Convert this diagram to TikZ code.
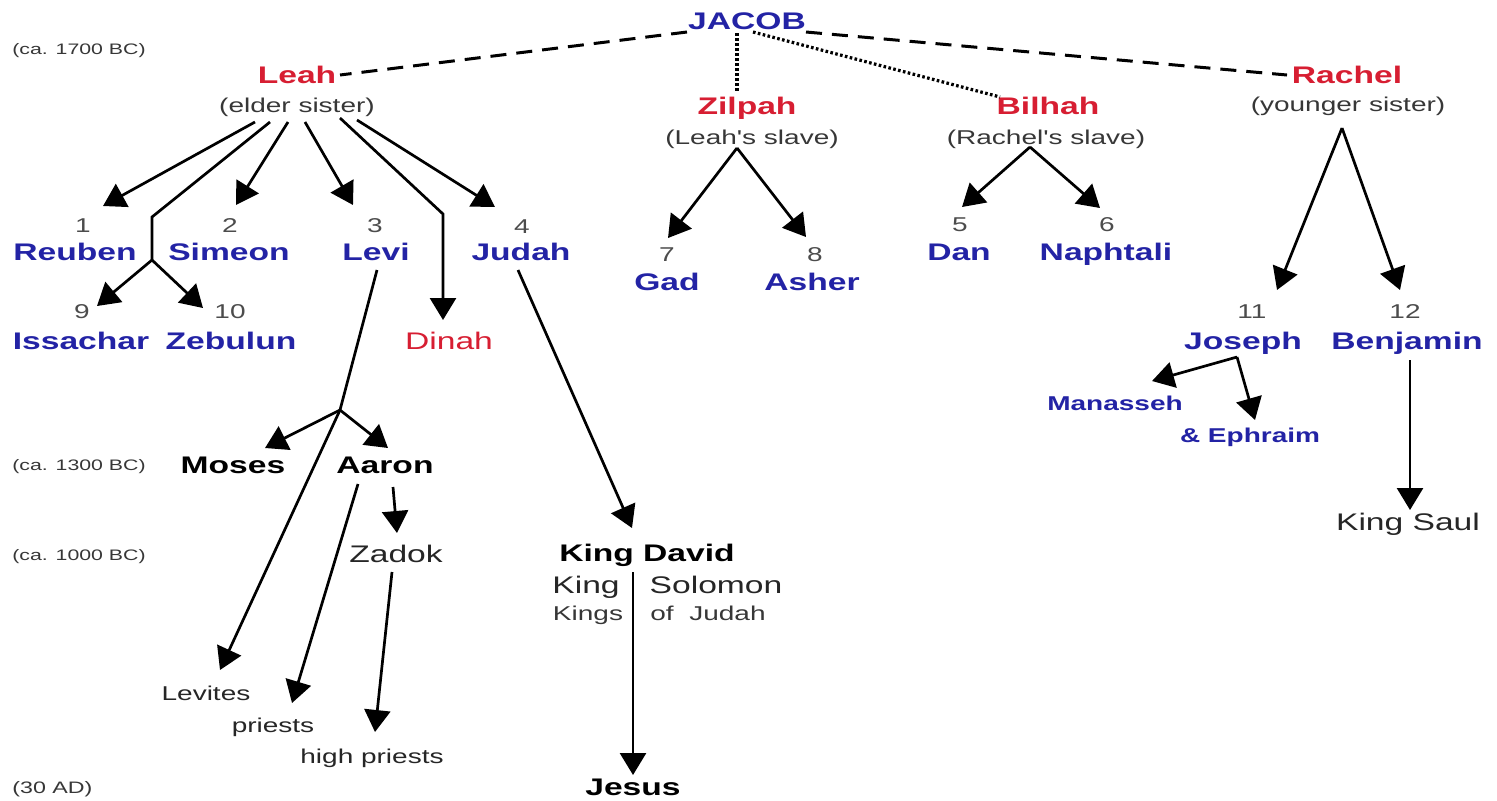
\documentclass[tikz,border=0pt]{standalone}
\usepackage{fontspec}
\newfontfamily\af[FakeStretch=1.4]{Liberation Sans}
\usetikzlibrary{arrows.meta}
\definecolor{nb}{RGB}{35,35,165}
\definecolor{nr}{RGB}{215,30,50}
\definecolor{ng}{RGB}{55,55,55}
\begin{document}
\begin{tikzpicture}[x=0.5pt,y=-0.5pt,
  base/.style={inner sep=0pt, text depth=0pt},
  bname/.style={base, font=\af\fontsize{12}{14}\selectfont\bfseries, text height=8.6pt, text=nb},
  rname/.style={bname, text=nr},
  kname/.style={bname, text=black},
  sname/.style={base, font=\af\fontsize{10}{12}\selectfont\bfseries, text height=7.2pt, text=nb},
  sub/.style={base, font=\af\fontsize{10}{12}\selectfont, text height=7.2pt, text=ng},
  sblk/.style={sub, text=black!85},
  num/.style={sub, text=black!70},
  reg/.style={base, font=\af\fontsize{12}{14}\selectfont, text height=8.6pt, text=black!85},
  rreg/.style={reg, text=nr},
  date/.style={base, font=\af\fontsize{7.6}{9}\selectfont, text height=5.45pt, text=ng, anchor=west},
  arr/.style={line width=1.35pt, -{Triangle[length=11pt,width=13pt]}},
  ln/.style={line width=1.35pt},
  dashln/.style={line width=1.5pt, dash pattern=on 8pt off 5pt},
  dotln/.style={line width=1.6pt, dash pattern=on 1.3pt off 1.2pt}
]
\fill[white] (0,0) rectangle (1497,800);
\useasboundingbox (0,0) rectangle (1497,800);

% dates
\node[date] (d1700) at (12,49) {(ca. 1700 BC)};
\node[date] (d1300) at (12,465) {(ca. 1300 BC)};
\node[date] (d1000) at (12,555) {(ca. 1000 BC)};
\node[date, font=\af\fontsize{8.3}{10}\selectfont, text height=5.95pt] (d30) at (12,788) {(30 AD)};

% top generation
\node[bname] (jacob) at (747,21) {JACOB};
\node[rname] (leah) at (297,75) {Leah};
\node[sub] (leahs) at (297,105) {(elder sister)};
\node[rname] (zilpah) at (747,106) {Zilpah};
\node[sub] (zilpahs) at (752,137) {(Leah's slave)};
\node[rname] (bilhah) at (1048,106) {Bilhah};
\node[sub] (bilhahs) at (1046,137) {(Rachel's slave)};
\node[rname] (rachel) at (1347,75) {Rachel};
\node[sub] (rachels) at (1348,104) {(younger sister)};

% sons
\node[num] (n1) at (83,225) {1};
\node[bname] (reuben) at (75,252) {Reuben};
\node[num] (n2) at (230,225) {2};
\node[bname] (simeon) at (229,252) {Simeon};
\node[num] (n3) at (375,225) {3};
\node[bname] (levi) at (376,252) {Levi};
\node[num] (n4) at (522,226) {4};
\node[bname] (judah) at (521,252) {Judah};
\node[num] (n9) at (82,311) {9};
\node[bname] (issachar) at (81,341) {Issachar};
\node[num] (n10) at (230,311) {10};
\node[bname] (zebulun) at (231,341) {Zebulun};
\node[rreg] (dinah) at (449,341) {Dinah};
\node[num] (n7) at (667,254) {7};
\node[bname] (gad) at (667,282) {Gad};
\node[num] (n8) at (815,254) {8};
\node[bname] (asher) at (812,282) {Asher};
\node[num] (n5) at (960,224) {5};
\node[bname] (dan) at (959,252) {Dan};
\node[num] (n6) at (1107,224) {6};
\node[bname] (naphtali) at (1106,252) {Naphtali};
\node[num] (n11) at (1252,311) {11};
\node[bname] (joseph) at (1243,341) {Joseph};
\node[num] (n12) at (1405,311) {12};
\node[bname] (benjamin) at (1407,341) {Benjamin};
\node[sname] (manasseh) at (1115,403) {Manasseh};
\node[sname] (ephraim) at (1250,435) {\& Ephraim};
\node[reg] (saul) at (1408,522) {King Saul};

% Levi line
\node[kname] (moses) at (233,465) {Moses};
\node[kname] (aaron) at (385,465) {Aaron};
\node[reg] (zadok) at (396,554) {Zadok};
\node[sblk] (levites) at (206,693) {Levites};
\node[sblk] (priests) at (273,725) {priests};
\node[sblk] (hpriests) at (372,756) {high priests};

% Judah line
\node[kname] (david) at (647,553) {King David};
\node[reg] (king) at (586,585) {King};
\node[reg] (solomon) at (716,585) {Solomon};
\node[sub] (kings) at (588,613) {Kings};
\node[sub] (ofjudah) at (708,613) {of\ \ Judah};
\node[kname] (jesus) at (633,787) {Jesus};

% marriage lines
\coordinate (jL) at (687,32);
\coordinate (jR) at (806,32);
\coordinate (leahE) at (340,75);
\coordinate (rachelW) at (1287,75);
\coordinate (jZ) at (737,33);
\coordinate (zN) at (737,92);
\coordinate (jB) at (753,32);
\coordinate (bN) at (1000,97);
\draw[dashln] (jL) -- (leahE);
\draw[dashln] (jR) -- (rachelW);
\draw[dotln] (jZ) -- (zN);
\draw[dotln] (jB) -- (bN);

% Leah's children
\draw[arr] (255,122) -- (103,206);
\coordinate (isb) at (152,217);
\coordinate (isc) at (152,260);
\draw[ln] (270,122) -- (isb) -- (isc);
\draw[arr] (isc) -- (97,306);
\draw[arr] (isc) -- (203,308);
\draw[arr] (288,122) -- (236,205);
\draw[arr] (305,122) -- (353,205);
\draw[arr] (340,118) -- (443,214) -- (443,320);
\draw[arr] (357,120) -- (495,207);

% Zilpah / Bilhah
\coordinate (za) at (737,148);
\draw[arr] (za) -- (668,238);
\draw[arr] (za) -- (806,237);
\coordinate (ba) at (1030,147);
\draw[arr] (ba) -- (962,207);
\draw[arr] (ba) -- (1100,208);

% Rachel
\coordinate (ra) at (1342,128);
\draw[arr] (ra) -- (1277,290);
\draw[arr] (ra) -- (1400,290);
\coordinate (ja) at (1237,357);
\draw[arr] (ja) -- (1152,381);
\draw[arr] (ja) -- (1255,420);
\draw[arr] (1410,360) -- (1410,510);

% Levi
\coordinate (ls) at (340,410);
\draw[ln] (377,270) -- (ls);
\draw[arr] (ls) -- (265,448);
\draw[arr] (ls) -- (388,448);
\draw[arr] (ls) -- (220,670);
\draw[arr] (358,484) -- (292,703);
\draw[arr] (393,487) -- (397,533);
\draw[arr] (392,572) -- (375,732);

% Judah
\draw[arr] (518,270) -- (632,528);
\draw[arr] (633,572) -- (633,775);
\end{tikzpicture}
\end{document}
